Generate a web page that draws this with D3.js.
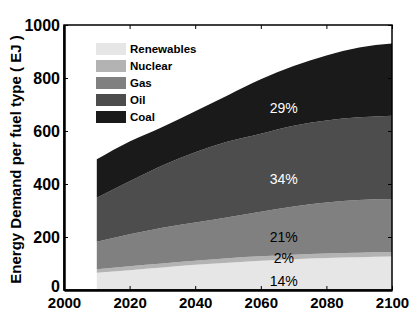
<!DOCTYPE html>
<html>
<head>
<meta charset="utf-8">
<script src="https://cdn.jsdelivr.net/npm/d3@7"></script>
<style>
  body { margin: 0; background: #fff; }
  text { font-family: "Liberation Sans", Arial, sans-serif; }
</style>
</head>
<body>
<svg id="main" width="415" height="310"></svg>
<script>
const margin = { top: 25, right: 23, bottom: 20, left: 64 };
const width = 415 - margin.left - margin.right;
const height = 310 - margin.top - margin.bottom;

// data (EJ per fuel type)
const years = [2010, 2020, 2030, 2040, 2050, 2060, 2070, 2080, 2090, 2100];
const renewables = [65, 75, 85, 95, 103, 110, 116, 121, 124, 126];
const nuclear = [13, 15, 15, 15, 17, 17, 17, 17, 17, 17];
const gas = [104, 120, 135, 145, 155, 168, 182, 192, 199, 200];
const oil = [166, 200, 235, 265, 285, 295, 305, 310, 312, 315];
const coal = [145, 150, 145, 155, 175, 205, 225, 245, 263, 272];

const fuels = ["Renewables", "Nuclear", "Gas", "Oil", "Coal"];
const colors = ["#e6e6e6", "#b3b3b3", "#808080", "#4d4d4d", "#1a1a1a"];
const shares = ["14%", "2%", "21%", "34%", "29%"];
const shareColors = ["#000", "#000", "#000", "#fff", "#fff"];
const shareLevels = [35, 122, 200, 420, 686];
const labelYear = 2067;

const xTicks = [2000, 2020, 2040, 2060, 2080, 2100];
const yTicks = [0, 200, 400, 600, 800, 1000];

const table = years.map((y, i) => ({
    year: y,
    Renewables: renewables[i],
    Nuclear: nuclear[i],
    Gas: gas[i],
    Oil: oil[i],
    Coal: coal[i]
}));

const svg = d3.select('#main');
const g = svg.append('g').attr('transform', `translate(${margin.left},${margin.top})`);

const xScale = d3.scaleLinear().domain([2000, 2100]).range([0, width]);
const yScale = d3.scaleLinear().domain([0, 1000]).range([height, 0]);

const series = d3.stack().keys(fuels)(table);

const area = d3.area()
    .x(d => xScale(d.data.year))
    .y0(d => yScale(d[0]))
    .y1(d => yScale(d[1]))
    .curve(d3.curveMonotoneX);

g.append('g')
    .selectAll('path')
    .data(series)
    .enter()
    .append('path')
    .attr('fill', (d, i) => colors[i])
    .attr('d', area);

// percent labels inside each band
g.append('g')
    .selectAll('text')
    .data(series)
    .enter()
    .append('text')
    .attr('x', xScale(labelYear))
    .attr('y', (d, i) => yScale(shareLevels[i]))
    .attr('dy', '0.35em')
    .attr('text-anchor', 'middle')
    .style('font-size', '14px')
    .attr('fill', (d, i) => shareColors[i])
    .text((d, i) => shares[i]);

// box with inward ticks
g.append('rect')
    .attr('x', 0).attr('y', 0)
    .attr('width', width).attr('height', height)
    .attr('fill', 'none')
    .attr('stroke', '#000')
    .attr('stroke-width', 1.5);

const xAxis = d3.axisBottom(xScale).tickValues(xTicks).tickFormat(d3.format('d')).tickSizeInner(-4).tickSizeOuter(0).tickPadding(7);
const yAxis = d3.axisLeft(yScale).tickValues(yTicks).tickFormat(d3.format('d')).tickSizeInner(-4).tickSizeOuter(0).tickPadding(4);

g.append('g')
    .attr('transform', `translate(0,${height})`)
    .call(xAxis)
    .call(a => a.select('.domain').attr('stroke-width', 2.5))
    .call(a => a.selectAll('text').style('font-size', '15px').style('font-weight', 'bold').attr('fill', '#000'));

g.append('g')
    .call(yAxis)
    .call(a => a.select('.domain').attr('stroke-width', 2.5))
    .call(a => a.selectAll('text').style('font-size', '16px').style('font-weight', 'bold').attr('fill', '#000'))
    .call(a => a.selectAll('.tick').filter(d => d === 0).select('text').attr('dy', '0.1em'));

// top and right ticks
g.append('g').call(d3.axisTop(xScale).tickValues(xTicks).tickSizeInner(-4).tickSizeOuter(0).tickFormat(''))
    .call(a => a.select('.domain').remove());
g.append('g').attr('transform', `translate(${width},0)`)
    .call(d3.axisRight(yScale).tickValues(yTicks).tickSizeInner(-4).tickSizeOuter(0).tickFormat(''))
    .call(a => a.select('.domain').remove());

// y title
svg.append('text')
    .attr('transform', `translate(16,${margin.top + height / 2 + 2}) rotate(-90)`)
    .attr('text-anchor', 'middle')
    .attr('dy', '0.35em')
    .style('font-size', '15px')
    .style('font-weight', 'bold')
    .text('Energy Demand per fuel type ( EJ )');

// legend
const legend = g.append('g').attr('transform', 'translate(32,18)');
const rows = legend.selectAll('g')
    .data(fuels)
    .enter()
    .append('g')
    .attr('transform', (d, i) => `translate(0,${i * 17})`);
rows.append('rect')
    .attr('width', 30).attr('height', 12)
    .attr('fill', (d, i) => colors[i]);
rows.append('text')
    .attr('x', 34).attr('y', 6)
    .attr('dy', '0.35em')
    .style('font-size', '11.5px')
    .style('font-weight', 'bold')
    .text(d => d);
</script>
</body>
</html>
